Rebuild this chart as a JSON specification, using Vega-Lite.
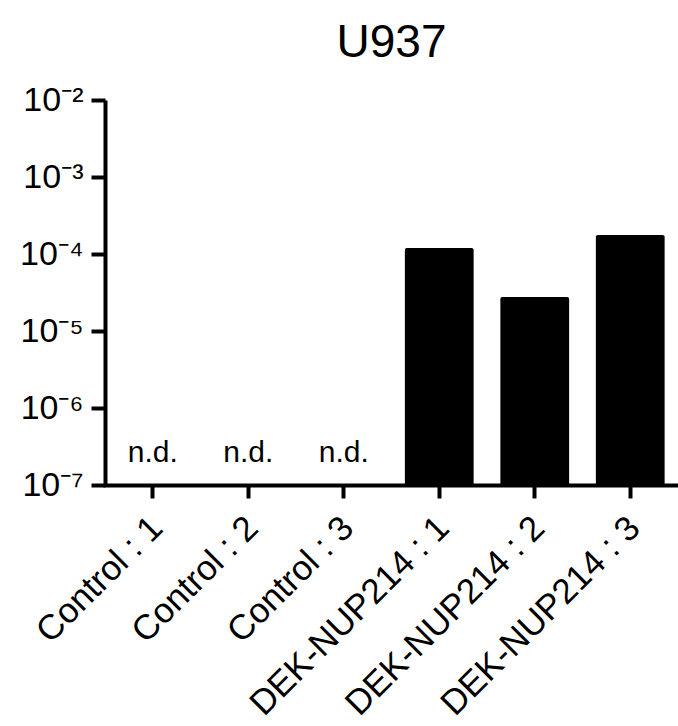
{
  "$schema": "https://vega.github.io/schema/vega-lite/v6.json",
  "width": 573,
  "height": 385,
  "autosize": {"type": "none"},
  "padding": {"left": 105, "top": 100, "right": 0, "bottom": 241},
  "background": "white",
  "title": {
    "text": "U937",
    "fontSize": 46,
    "font": "Liberation Sans",
    "fontWeight": "normal",
    "color": "black",
    "anchor": "middle",
    "frame": "group",
    "offset": 16
  },
  "data": {
    "values": [
      {"group": "Control : 1", "value": null, "label": "n.d."},
      {"group": "Control : 2", "value": null, "label": "n.d."},
      {"group": "Control : 3", "value": null, "label": "n.d."},
      {"group": "DEK-NUP214 : 1", "value": 0.00012, "label": ""},
      {"group": "DEK-NUP214 : 2", "value": 0.0000277, "label": ""},
      {"group": "DEK-NUP214 : 3", "value": 0.000177, "label": ""}
    ]
  },
  "config": {
    "view": {"stroke": null},
    "axis": {
      "domainColor": "black",
      "domainWidth": 4,
      "tickColor": "black",
      "tickWidth": 4,
      "labelColor": "black",
      "labelFont": "Liberation Sans",
      "labelLimit": 0,
      "grid": false,
      "title": null
    }
  },
  "encoding": {
    "x": {
      "field": "group",
      "type": "nominal",
      "sort": ["Control : 1", "Control : 2", "Control : 3", "DEK-NUP214 : 1", "DEK-NUP214 : 2", "DEK-NUP214 : 3"],
      "scale": {"paddingInner": 0.28, "paddingOuter": 0.14},
      "axis": {
        "labelAngle": -45,
        "labelFontSize": 35,
        "tickSize": 13,
        "labelPadding": 12,
        "labelOffset": -8,
        "labelAlign": "right",
        "labelBaseline": "top",
        "domainCap": "square"
      }
    }
  },
  "layer": [
    {
      "mark": {"type": "bar", "color": "black", "cornerRadiusTopLeft": 2, "cornerRadiusTopRight": 2},
      "encoding": {
        "y": {
          "field": "value",
          "type": "quantitative",
          "scale": {"type": "log", "domain": [1e-7, 0.01], "nice": false},
          "axis": {
            "values": [1e-7, 1e-6, 1e-5, 1e-4, 1e-3, 1e-2],
            "labelExpr": "'10⁻' + ['⁰','¹','²','³','⁴','⁵','⁶','⁷','⁸','⁹'][-round(log(datum.value)/LN10)]",
            "labelFontSize": 34,
            "tickSize": 14,
            "labelPadding": 8,
            "labelBaseline": "middle"
          }
        },
        "y2": {"datum": 1e-7}
      }
    },
    {
      "mark": {"type": "text", "fontSize": 30, "font": "Liberation Sans", "color": "black", "baseline": "alphabetic", "align": "center"},
      "encoding": {
        "y": {"datum": 2e-7},
        "text": {"field": "label"}
      }
    }
  ]
}
